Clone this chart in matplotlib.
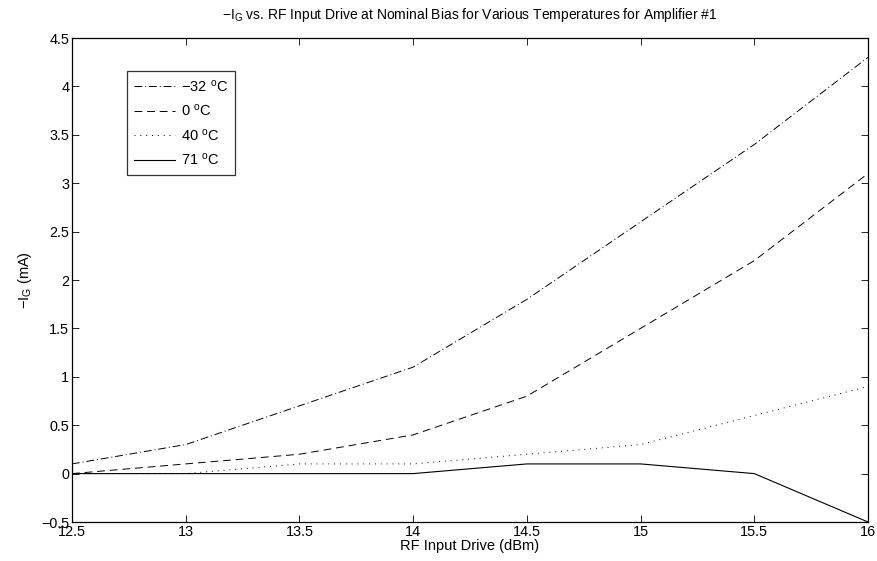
import matplotlib
matplotlib.use("Agg")
import matplotlib.pyplot as plt

plt.rcParams["font.family"] = ["Liberation Sans", "DejaVu Sans"]
plt.rcParams["mathtext.fontset"] = "custom"
plt.rcParams["mathtext.rm"] = "Liberation Sans"
plt.rcParams["mathtext.it"] = "Liberation Sans"

rf_drive = [12.5, 13.0, 13.5, 14.0, 14.5, 15.0, 15.5, 16.0]
ig_m32 = [0.1, 0.3, 0.7, 1.1, 1.8, 2.6, 3.4, 4.3]
ig_0 = [0.0, 0.1, 0.2, 0.4, 0.8, 1.5, 2.2, 3.1]
ig_40 = [0.0, 0.0, 0.1, 0.1, 0.2, 0.3, 0.6, 0.9]
ig_71 = [0.0, 0.0, 0.0, 0.0, 0.1, 0.1, 0.0, -0.5]

labels = ["\u221232 $^{\\rm o}$C", "0 $^{\\rm o}$C", "40 $^{\\rm o}$C", "71 $^{\\rm o}$C"]

fig = plt.figure(figsize=(8.77, 5.61), dpi=100)
ax = fig.add_axes([72 / 877, 1 - 522 / 561, (868 - 72) / 877, (522 - 38) / 561])

ax.plot(rf_drive, ig_m32, color="k", lw=0.7, ls=(0, (8, 3, 1, 3)), label=labels[0])
ax.plot(rf_drive, ig_0, color="k", lw=0.7, ls=(0, (8, 5)), label=labels[1])
ax.plot(rf_drive, ig_40, color="k", lw=0.7, ls=(0, (1, 5)), label=labels[2])
ax.plot(rf_drive, ig_71, color="k", lw=0.8, ls="-", label=labels[3])

ax.set_xlim(12.5, 16)
ax.set_ylim(-0.5, 4.5)
ax.set_xticks([12.5, 13, 13.5, 14, 14.5, 15, 15.5, 16])
ax.set_xticklabels(["12.5", "13", "13.5", "14", "14.5", "15", "15.5", "16"])
ax.set_yticks([-0.5, 0, 0.5, 1, 1.5, 2, 2.5, 3, 3.5, 4, 4.5])
ax.set_yticklabels(["\u22120.5", "0", "0.5", "1", "1.5", "2", "2.5", "3", "3.5", "4", "4.5"])
ax.tick_params(direction="in", top=True, right=True, length=5, width=0.6, labelsize=10.4, pad=2)
for s in ax.spines.values():
    s.set_linewidth(0.9)

ax.set_xlabel("RF Input Drive (dBm)", fontsize=10.5, labelpad=0)
ax.set_ylabel("\u2212I$_{\\rm G}$ (mA)", fontsize=10.5, labelpad=5)
ax.set_title("\u2212I$_{\\rm G}$ vs. RF Input Drive at Nominal Bias for Various Temperatures for Amplifier #1",
             fontsize=10, pad=14)

leg = ax.legend(loc="upper left", bbox_to_anchor=((127 - 72) / 796, 1 - (71 - 38) / 484),
                borderaxespad=0, fontsize=10.5, frameon=True, fancybox=False, handlelength=2.8,
                borderpad=0.5, labelspacing=0.58, handletextpad=0.4)
leg.get_frame().set_edgecolor("k")
leg.get_frame().set_linewidth(0.9)

fig.savefig("out.png", dpi=100)
